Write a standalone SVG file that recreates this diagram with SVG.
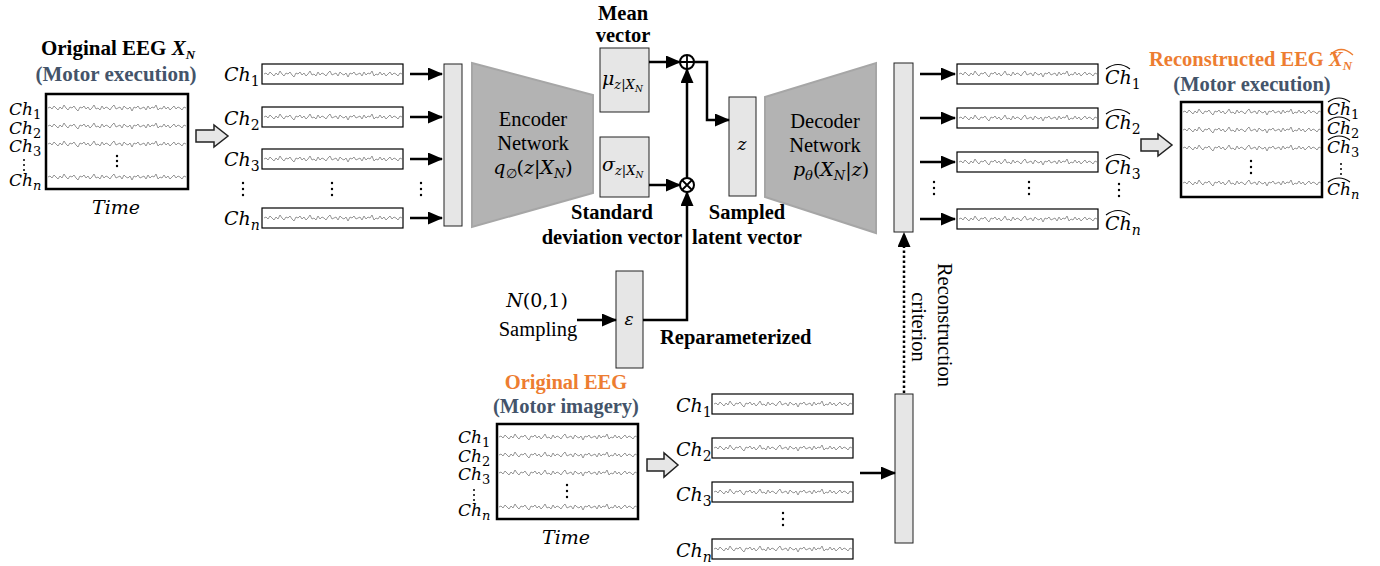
<svg xmlns="http://www.w3.org/2000/svg" xmlns:xlink="http://www.w3.org/1999/xlink" width="1380" height="566" viewBox="0 0 1380 566">
<style>
text{font-family:"Liberation Serif","Times New Roman",serif;fill:#000}
.b{font-weight:bold;font-size:20.5px}
.t{font-weight:bold;font-size:21px}
.r{font-size:20.5px}
.m{font-family:"DejaVu Serif",serif;font-style:italic;font-size:19px}
.ms{font-family:"DejaVu Serif",serif;font-style:italic;font-size:17px}
.u{font-style:normal}
.or{fill:#ed7d31}
.nv{fill:#44546a}
.strip{fill:#fff;stroke:#000;stroke-width:1.2}
.big{fill:#fff;stroke:#000;stroke-width:2.5}
.blk{fill:#e6e6e6;stroke:#222;stroke-width:1}
.trap{fill:#b3b3b3;stroke:#a6a6a6;stroke-width:2}
.hol{fill:#e6e6e6;stroke:#222;stroke-width:1.5}
.ar{stroke:#000;stroke-width:2.5;fill:none;marker-end:url(#ah)}
.dt{fill:#000}
.hat{fill:none;stroke:#000;stroke-width:1.1}
</style>
<defs>
<marker id="ah" markerUnits="userSpaceOnUse" markerWidth="15" markerHeight="13" refX="14" refY="6.5" orient="auto"><path d="M0,0 L15,6.5 L0,13 z" fill="#000"/></marker>
<path id="wave" fill="none" stroke="#8a8a8a" stroke-width="0.9" d="M0,0 L2,-1 4,1 6,-2 8,0 10,2 12,-1 14,1 16,-3 18,0 20,2 22,-1 24,0 26,-2 28,1 30,3 32,-1 34,0 36,-2 38,1 40,-1 42,2 44,0 46,-3 48,1 50,0 52,2 54,-2 56,1 58,-1 60,0 62,2 64,-1 66,-3 68,1 70,0 72,-1 74,2 76,-2 78,0 80,1 82,-1 84,3 86,-1 88,0 90,-2 92,1 94,0 96,-1 98,2 100,-2 102,1 104,-1 106,0 108,-3 110,2 112,0 114,1 116,-2 118,1 120,-1 122,2 124,0 126,-2 128,1 130,-1 132,0 134,2 136,-1 138,0"/>
</defs>

<!-- Original EEG (motor execution) -->
<g id="orig-exec">
<text x="118" y="55" text-anchor="middle" class="t">Original EEG <tspan font-style="italic">X</tspan><tspan font-style="italic" font-size="13" dy="4">N</tspan></text>
<text x="116" y="81" text-anchor="middle" class="t nv">(Motor execution)</text>
<rect x="46" y="94" width="142" height="95" class="big"/>
<use xlink:href="#wave" x="48" y="108"/>
<use xlink:href="#wave" x="48" y="126"/>
<use xlink:href="#wave" x="48" y="144"/>
<use xlink:href="#wave" x="48" y="177"/>
<circle cx="117" cy="156" r="1.2" class="dt"/><circle cx="117" cy="161" r="1.2" class="dt"/><circle cx="117" cy="166" r="1.2" class="dt"/>
<text x="9" y="115" class="ms">Ch<tspan font-size="13" dy="4" class="u">1</tspan></text>
<text x="9" y="134" class="ms">Ch<tspan font-size="13" dy="4" class="u">2</tspan></text>
<text x="9" y="152" class="ms">Ch<tspan font-size="13" dy="4" class="u">3</tspan></text>
<circle cx="24" cy="160" r="1" class="dt"/><circle cx="24" cy="165" r="1" class="dt"/><circle cx="24" cy="170" r="1" class="dt"/>
<text x="9" y="186" class="ms">Ch<tspan font-size="13" dy="4">n</tspan></text>
<text x="116" y="214" text-anchor="middle" class="m">Time</text>
</g>
<polygon id="hollow-1" class="hol" points="196,130 214,130 214,125 228,136 214,147 214,142 196,142"/>

<!-- input channel strips -->
<g id="input-strips">
<rect x="262" y="64" width="141" height="20" class="strip"/><use xlink:href="#wave" x="264" y="74"/>
<rect x="262" y="107" width="141" height="20" class="strip"/><use xlink:href="#wave" x="264" y="117"/>
<rect x="262" y="149" width="141" height="20" class="strip"/><use xlink:href="#wave" x="264" y="159"/>
<rect x="262" y="208" width="141" height="20" class="strip"/><use xlink:href="#wave" x="264" y="218"/>
<text x="224" y="81" class="m">Ch<tspan font-size="14" dy="5" class="u">1</tspan></text>
<text x="224" y="125" class="m">Ch<tspan font-size="14" dy="5" class="u">2</tspan></text>
<text x="224" y="166" class="m">Ch<tspan font-size="14" dy="5" class="u">3</tspan></text>
<text x="224" y="225" class="m">Ch<tspan font-size="14" dy="5">n</tspan></text>
<circle cx="243" cy="183" r="1.2" class="dt"/><circle cx="243" cy="189" r="1.2" class="dt"/><circle cx="243" cy="195" r="1.2" class="dt"/>
<circle cx="332" cy="183" r="1.2" class="dt"/><circle cx="332" cy="189" r="1.2" class="dt"/><circle cx="332" cy="195" r="1.2" class="dt"/>
<circle cx="421" cy="183" r="1.2" class="dt"/><circle cx="421" cy="189" r="1.2" class="dt"/><circle cx="421" cy="195" r="1.2" class="dt"/>
</g>

<rect id="enc-input-layer" x="444" y="64" width="18" height="162" class="blk"/>

<g id="encoder">
<polygon class="trap" points="472,63 593,95 593,193 472,227"/>
<text x="533" y="126" text-anchor="middle" class="r">Encoder</text>
<text x="533" y="150" text-anchor="middle" class="r">Network</text>
<text x="533" y="174" text-anchor="middle" class="m">q<tspan font-size="13" dy="4" class="u">∅</tspan><tspan dy="-4" class="u">(</tspan>z<tspan class="u">|</tspan>X<tspan font-size="13" dy="4">N</tspan><tspan dy="-4" class="u">)</tspan></text>
</g>

<g id="mean-vector">
<text x="623" y="20" text-anchor="middle" class="b">Mean</text>
<text x="623" y="42" text-anchor="middle" class="b">vector</text>
<rect x="600" y="48" width="49" height="64" class="blk"/>
<text x="602" y="85" class="m">μ<tspan font-size="13" dy="4">z</tspan><tspan font-size="13" class="u">|</tspan><tspan font-size="13">X</tspan><tspan font-size="9" dy="3">N</tspan></text>
</g>

<g id="std-vector">
<rect x="600" y="137" width="49" height="60" class="blk"/>
<text x="602" y="171" class="m">σ<tspan font-size="13" dy="4">z</tspan><tspan font-size="13" class="u">|</tspan><tspan font-size="13">X</tspan><tspan font-size="9" dy="3">N</tspan></text>
<text x="612" y="219" text-anchor="middle" class="b">Standard</text>
<text x="612" y="244" text-anchor="middle" class="b">deviation vector</text>
</g>

<g id="plus-op">
<circle cx="687" cy="62" r="7" fill="#fff" stroke="#000" stroke-width="2"/>
<path d="M680,62 H694 M687,55 V69" stroke="#000" stroke-width="1.8"/>
</g>
<g id="times-op">
<circle cx="687" cy="185" r="7" fill="#fff" stroke="#000" stroke-width="2"/>
<path d="M682,180 L692,190 M692,180 L682,190" stroke="#000" stroke-width="1.8"/>
</g>

<g id="latent-z">
<rect x="729" y="97" width="27" height="99" class="blk"/>
<text x="742" y="150" text-anchor="middle" class="ms">z</text>
<text x="747" y="219" text-anchor="middle" class="b">Sampled</text>
<text x="747" y="244" text-anchor="middle" class="b">latent vector</text>
</g>

<g id="epsilon">
<rect x="616" y="271" width="27" height="97" class="blk"/>
<text x="629" y="325" text-anchor="middle" class="ms">ε</text>
<text x="537" y="307" text-anchor="middle" class="m">N<tspan class="u">(0,1)</tspan></text>
<text x="538" y="336" text-anchor="middle" class="r">Sampling</text>
<text x="660" y="344" class="b">Reparameterized</text>
</g>

<g id="decoder">
<polygon class="trap" points="765,97 876,63 876,233 765,197"/>
<text x="825" y="128" text-anchor="middle" class="r">Decoder</text>
<text x="825" y="152" text-anchor="middle" class="r">Network</text>
<text x="831" y="176" text-anchor="middle" class="m">p<tspan font-size="13" dy="4">θ</tspan><tspan dy="-4" class="u">(</tspan>X<tspan font-size="13" dy="4">N</tspan><tspan dy="-4" class="u">|</tspan>z<tspan class="u">)</tspan></text>
</g>

<rect id="dec-output-layer" x="894" y="63" width="19" height="169" class="blk"/>

<g id="output-strips">
<rect x="957" y="64" width="141" height="20" class="strip"/><use xlink:href="#wave" x="959" y="74"/>
<rect x="957" y="108" width="141" height="20" class="strip"/><use xlink:href="#wave" x="959" y="118"/>
<rect x="957" y="152" width="141" height="20" class="strip"/><use xlink:href="#wave" x="959" y="162"/>
<rect x="957" y="209" width="141" height="20" class="strip"/><use xlink:href="#wave" x="959" y="219"/>
<text x="1105" y="84" class="m">Ch<tspan font-size="14" dy="5" class="u">1</tspan></text>
<path d="M1106,69 Q1118,60 1130,69" class="hat"/>
<text x="1105" y="129" class="m">Ch<tspan font-size="14" dy="5" class="u">2</tspan></text>
<path d="M1106,114 Q1118,105 1130,114" class="hat"/>
<text x="1105" y="174" class="m">Ch<tspan font-size="14" dy="5" class="u">3</tspan></text>
<path d="M1106,159 Q1118,150 1130,159" class="hat"/>
<text x="1105" y="230" class="m">Ch<tspan font-size="14" dy="5">n</tspan></text>
<path d="M1106,215 Q1118,206 1130,215" class="hat"/>
<circle cx="934" cy="182" r="1.2" class="dt"/><circle cx="934" cy="188" r="1.2" class="dt"/><circle cx="934" cy="194" r="1.2" class="dt"/>
<circle cx="1029" cy="182" r="1.2" class="dt"/><circle cx="1029" cy="188" r="1.2" class="dt"/><circle cx="1029" cy="194" r="1.2" class="dt"/>
<circle cx="1119" cy="184" r="1.2" class="dt"/><circle cx="1119" cy="190" r="1.2" class="dt"/><circle cx="1119" cy="196" r="1.2" class="dt"/>
</g>

<polygon id="hollow-2" class="hol" points="1141,139 1158,139 1158,134 1172,145 1158,156 1158,151 1141,151"/>

<g id="recon-exec">
<text x="1149" y="66" class="b or">Reconstructed EEG <tspan font-style="italic">X</tspan><tspan font-style="italic" font-size="13" dy="4">N</tspan></text>
<path d="M1330,55 Q1341,44 1353,55" fill="none" stroke="#ed7d31" stroke-width="1.3"/>
<text x="1252" y="91" text-anchor="middle" class="b nv">(Motor execution)</text>
<rect x="1181" y="102" width="141" height="95" class="big"/>
<use xlink:href="#wave" x="1183" y="112"/>
<use xlink:href="#wave" x="1183" y="130"/>
<use xlink:href="#wave" x="1183" y="148"/>
<use xlink:href="#wave" x="1183" y="183"/>
<circle cx="1251" cy="161" r="1.2" class="dt"/><circle cx="1251" cy="167" r="1.2" class="dt"/><circle cx="1251" cy="173" r="1.2" class="dt"/>
<text x="1327" y="115" class="ms">Ch<tspan font-size="13" dy="4" class="u">1</tspan></text>
<path d="M1328,102 Q1339,94 1350,102" class="hat"/>
<text x="1327" y="134" class="ms">Ch<tspan font-size="13" dy="4" class="u">2</tspan></text>
<path d="M1328,121 Q1339,113 1350,121" class="hat"/>
<text x="1327" y="153" class="ms">Ch<tspan font-size="13" dy="4" class="u">3</tspan></text>
<path d="M1328,140 Q1339,132 1350,140" class="hat"/>
<circle cx="1341" cy="164" r="1" class="dt"/><circle cx="1341" cy="169" r="1" class="dt"/><circle cx="1341" cy="174" r="1" class="dt"/>
<text x="1327" y="195" class="ms">Ch<tspan font-size="13" dy="4">n</tspan></text>
<path d="M1328,182 Q1339,174 1350,182" class="hat"/>
</g>

<g id="orig-imagery">
<text x="566" y="389" text-anchor="middle" class="b or">Original EEG</text>
<text x="566" y="413" text-anchor="middle" class="b nv">(Motor imagery)</text>
<rect x="497" y="424" width="141" height="95" class="big"/>
<use xlink:href="#wave" x="499" y="437"/>
<use xlink:href="#wave" x="499" y="455"/>
<use xlink:href="#wave" x="499" y="473"/>
<use xlink:href="#wave" x="499" y="507"/>
<circle cx="567" cy="485" r="1.2" class="dt"/><circle cx="567" cy="491" r="1.2" class="dt"/><circle cx="567" cy="497" r="1.2" class="dt"/>
<text x="458" y="443" class="ms">Ch<tspan font-size="13" dy="4" class="u">1</tspan></text>
<text x="458" y="462" class="ms">Ch<tspan font-size="13" dy="4" class="u">2</tspan></text>
<text x="458" y="480" class="ms">Ch<tspan font-size="13" dy="4" class="u">3</tspan></text>
<circle cx="474" cy="490" r="1" class="dt"/><circle cx="474" cy="495" r="1" class="dt"/><circle cx="474" cy="500" r="1" class="dt"/>
<text x="458" y="516" class="ms">Ch<tspan font-size="13" dy="4">n</tspan></text>
<text x="566" y="544" text-anchor="middle" class="m">Time</text>
</g>
<polygon id="hollow-3" class="hol" points="647,459 664,459 664,453 678,465 664,477 664,471 647,471"/>

<g id="imagery-strips">
<rect x="712" y="394" width="141" height="20" class="strip"/><use xlink:href="#wave" x="714" y="404"/>
<rect x="712" y="438" width="141" height="20" class="strip"/><use xlink:href="#wave" x="714" y="448"/>
<rect x="712" y="482" width="141" height="20" class="strip"/><use xlink:href="#wave" x="714" y="492"/>
<rect x="712" y="539" width="141" height="20" class="strip"/><use xlink:href="#wave" x="714" y="549"/>
<text x="676" y="412" class="m">Ch<tspan font-size="14" dy="5" class="u">1</tspan></text>
<text x="676" y="456" class="m">Ch<tspan font-size="14" dy="5" class="u">2</tspan></text>
<text x="676" y="501" class="m">Ch<tspan font-size="14" dy="5" class="u">3</tspan></text>
<text x="676" y="557" class="m">Ch<tspan font-size="14" dy="5">n</tspan></text>
<circle cx="783" cy="513" r="1.2" class="dt"/><circle cx="783" cy="519" r="1.2" class="dt"/><circle cx="783" cy="525" r="1.2" class="dt"/>
</g>

<rect id="imagery-layer" x="895" y="394" width="18" height="149" class="blk"/>

<g id="criterion-label">
<text transform="translate(938,325) rotate(90)" text-anchor="middle" class="r">Reconstruction</text>
<text transform="translate(912,327) rotate(90)" text-anchor="middle" class="r">criterion</text>
</g>

<g id="connectors">
<line x1="410" y1="74" x2="442" y2="74" class="ar"/>
<line x1="410" y1="117" x2="442" y2="117" class="ar"/>
<line x1="410" y1="159" x2="442" y2="159" class="ar"/>
<line x1="410" y1="218" x2="442" y2="218" class="ar"/>
<line x1="649" y1="62" x2="680" y2="62" class="ar"/>
<line x1="649" y1="185" x2="680" y2="185" class="ar"/>
<line x1="687" y1="178" x2="687" y2="69" class="ar"/>
<path d="M643,320 H687 V192" class="ar"/>
<path d="M694,62 H707 V120 H729" class="ar"/>
<line x1="577" y1="320" x2="616" y2="320" class="ar"/>
<line x1="920" y1="74" x2="955" y2="74" class="ar"/>
<line x1="920" y1="118" x2="955" y2="118" class="ar"/>
<line x1="920" y1="162" x2="955" y2="162" class="ar"/>
<line x1="920" y1="219" x2="955" y2="219" class="ar"/>
<line x1="860" y1="473" x2="895" y2="473" class="ar"/>
<line x1="904" y1="393" x2="904" y2="233" stroke="#000" stroke-width="2.5" stroke-dasharray="2.5,2.5" marker-end="url(#ah)"/>
</g>
</svg>
